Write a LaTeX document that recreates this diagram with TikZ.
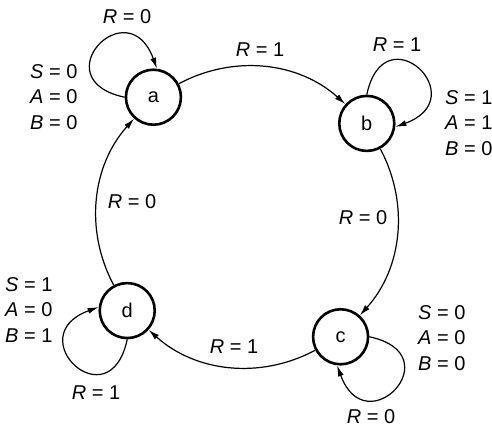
\documentclass[tikz,border=0pt]{standalone}
\usepackage{fontspec}
\setmainfont{Liberation Sans}
\usetikzlibrary{arrows.meta}
\begin{document}
\begin{tikzpicture}[x=1pt,y=1pt,
  state/.style={circle,draw,line width=2.6pt,minimum size=55pt,inner sep=0pt,font=\fontsize{20}{24}\selectfont},
  edge/.style={line width=1.2pt,-{Latex[length=11pt,width=6pt]}},
  ring/.style={edge,bend left=35,looseness=0.96},
  lbl/.style={inner sep=0pt,font=\fontsize{20}{24}\selectfont},
  outs/.style={inner sep=0pt,align=left,anchor=west,font=\fontsize{20}{25.5}\selectfont}]
\useasboundingbox (0,0) rectangle (492,428);
\coordinate (O) at (247,211);
\node[state] (a) at ([shift={(128:152)}]O) {a};
\node[state] (b) at ([shift={(38:152)}]O) {b};
\node[state] (c) at ([shift={(-52:152)}]O) {c};
\node[state] (d) at ([shift={(218:152)}]O) {d};
% transitions around the ring
\draw[ring] (a) to (b);
\draw[ring] (b) to (c);
\draw[ring] (c) to (d);
\draw[ring] (d) to (a);
% self loops
\draw[edge] (a.180) .. controls +(168:85) and +(110:85) .. (a.83);
\draw[edge] (b.90) .. controls +(78:85) and +(20:85) .. (b.-7);
\draw[edge] (c.0) .. controls +(-12:85) and +(-70:85) .. (c.-97);
\draw[edge] (d.270) .. controls +(258:85) and +(200:85) .. (d.173);
% edge labels
\node[lbl] (l1) at (260,378) {\textit{R} = 1};
\node[lbl] (l2) at (363,210) {\textit{R} = 0};
\node[lbl] (l3) at (234,81) {\textit{R} = 1};
\node[lbl] (l4) at (132,226) {\textit{R} = 0};
% loop labels
\node[lbl] (la) at (127,411) {\textit{R} = 0};
\node[lbl] (lb) at (397,383) {\textit{R} = 1};
\node[lbl] (lc) at (371,11) {\textit{R} = 0};
\node[lbl] (ld) at (96,35) {\textit{R} = 1};
% outputs
\node[outs] (oa) at (30,331) {\textit{S} = 0\\\textit{A} = 0\\\textit{B} = 0};
\node[outs] (ob) at (445,305) {\textit{S} = 1\\\textit{A} = 1\\\textit{B} = 0};
\node[outs] (oc) at (418,90) {\textit{S} = 0\\\textit{A} = 0\\\textit{B} = 0};
\node[outs] (od) at (5,118) {\textit{S} = 1\\\textit{A} = 0\\\textit{B} = 1};
\end{tikzpicture}
\end{document}
